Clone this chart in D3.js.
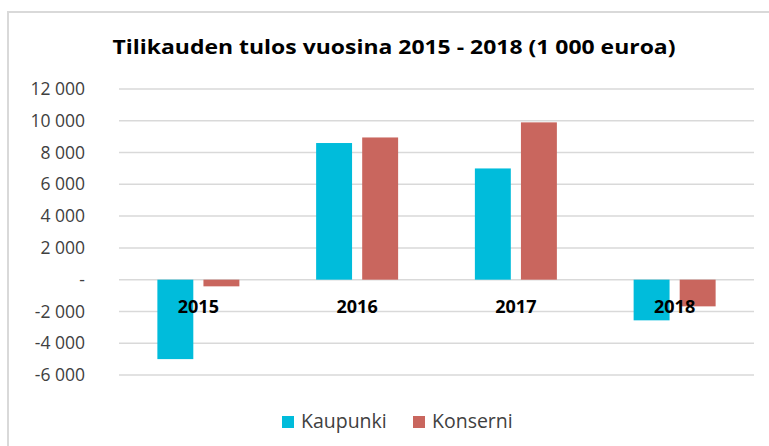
<!DOCTYPE html>
<html>
<head>
<meta charset="utf-8">
<script src="https://cdn.jsdelivr.net/npm/d3@7"></script>
<style>
  body { margin: 0; background: #fff; }
  text { font-family: "Open Sans", sans-serif; }
</style>
</head>
<body>
<div id="chart"></div>
<script>
// data
var years = ["2015", "2016", "2017", "2018"];
var seriesNames = ["Kaupunki", "Konserni"];
var kaupunki = [-5000, 8600, 7000, -2560];
var konserni = [-420, 8950, 9900, -1680];
var yTicks = [-6000, -4000, -2000, 0, 2000, 4000, 6000, 8000, 10000, 12000];
var colors = ["#00BCDB", "#C9665E"];

var W = 769, H = 446;
var margin = { top: 89, right: 15, bottom: 71, left: 119 },
    width = W - margin.left - margin.right,
    height = 286;

var svg = d3.select("#chart")
    .append("svg")
    .attr("width", W)
    .attr("height", H);

// frame of the chart area
svg.append("rect")
    .attr("x", 8).attr("y", 12)
    .attr("width", W).attr("height", H)
    .attr("fill", "none")
    .attr("stroke", "#d9d9d9")
    .attr("stroke-width", 2);

// title
svg.append("text")
    .attr("x", 394).attr("y", 54)
    .attr("text-anchor", "middle")
    .attr("font-size", 20)
    .attr("font-weight", 700)
    .attr("fill", "#000")
    .attr("textLength", 563)
    .attr("lengthAdjust", "spacingAndGlyphs")
    .text("Tilikauden tulos vuosina 2015 - 2018 (1 000 euroa)");

var g = svg.append("g")
    .attr("transform", "translate(" + margin.left + "," + margin.top + ")");

var y = d3.scaleLinear()
    .domain([-6000, 12000])
    .range([height, 0]);

var x0 = d3.scaleBand()
    .domain(years)
    .range([0, width]);

var x1 = d3.scaleBand()
    .domain(seriesNames)
    .range([0, 82])
    .paddingInner(0.22);

// gridlines
g.selectAll(".grid")
    .data(yTicks)
    .enter()
    .append("line")
    .attr("x1", 0).attr("x2", width)
    .attr("y1", function (d) { return y(d); })
    .attr("y2", function (d) { return y(d); })
    .attr("stroke", "#d9d9d9")
    .attr("stroke-width", 1.5);

// y tick labels, space as thousands separator, zero shown as a dash
g.selectAll(".ylab")
    .data(yTicks)
    .enter()
    .append("text")
    .attr("x", -34)
    .attr("y", function (d) { return y(d); })
    .attr("dy", "0.35em")
    .attr("text-anchor", "end")
    .attr("font-size", 17.5)
    .attr("fill", "#404040")
    .text(function (d) { return d === 0 ? "-" : d3.format(",")(d).replace(/,/g, " ").replace("\u2212", "-"); });

// bars
var values = [kaupunki, konserni];
var groups = g.selectAll(".year")
    .data(years)
    .enter()
    .append("g")
    .attr("transform", function (d) {
        return "translate(" + (x0(d) + x0.bandwidth() / 2 - 41) + ",0)";
    });

groups.selectAll("rect")
    .data(function (d, i) {
        return seriesNames.map(function (s, j) { return { s: s, v: values[j][i], c: colors[j] }; });
    })
    .enter()
    .append("rect")
    .attr("x", function (d) { return x1(d.s); })
    .attr("width", x1.bandwidth())
    .attr("y", function (d) { return y(Math.max(0, d.v)); })
    .attr("height", function (d) { return Math.abs(y(d.v) - y(0)); })
    .attr("fill", function (d) { return d.c; });

// category labels sit just below the zero line
g.selectAll(".xlab")
    .data(years)
    .enter()
    .append("text")
    .attr("x", function (d) { return x0(d) + x0.bandwidth() / 2; })
    .attr("y", y(0) + 33)
    .attr("text-anchor", "middle")
    .attr("font-size", 18)
    .attr("font-weight", 700)
    .attr("fill", "#000")
    .text(function (d) { return d; });

// legend
var legend = svg.append("g");
var legendX = [282, 413];
seriesNames.forEach(function (s, i) {
    legend.append("rect")
        .attr("x", legendX[i]).attr("y", 416)
        .attr("width", 12).attr("height", 12)
        .attr("fill", colors[i]);
    legend.append("text")
        .attr("x", legendX[i] + 19).attr("y", 428)
        .attr("font-size", 19.5)
        .attr("fill", "#404040")
        .text(s);
});
</script>
</body>
</html>
